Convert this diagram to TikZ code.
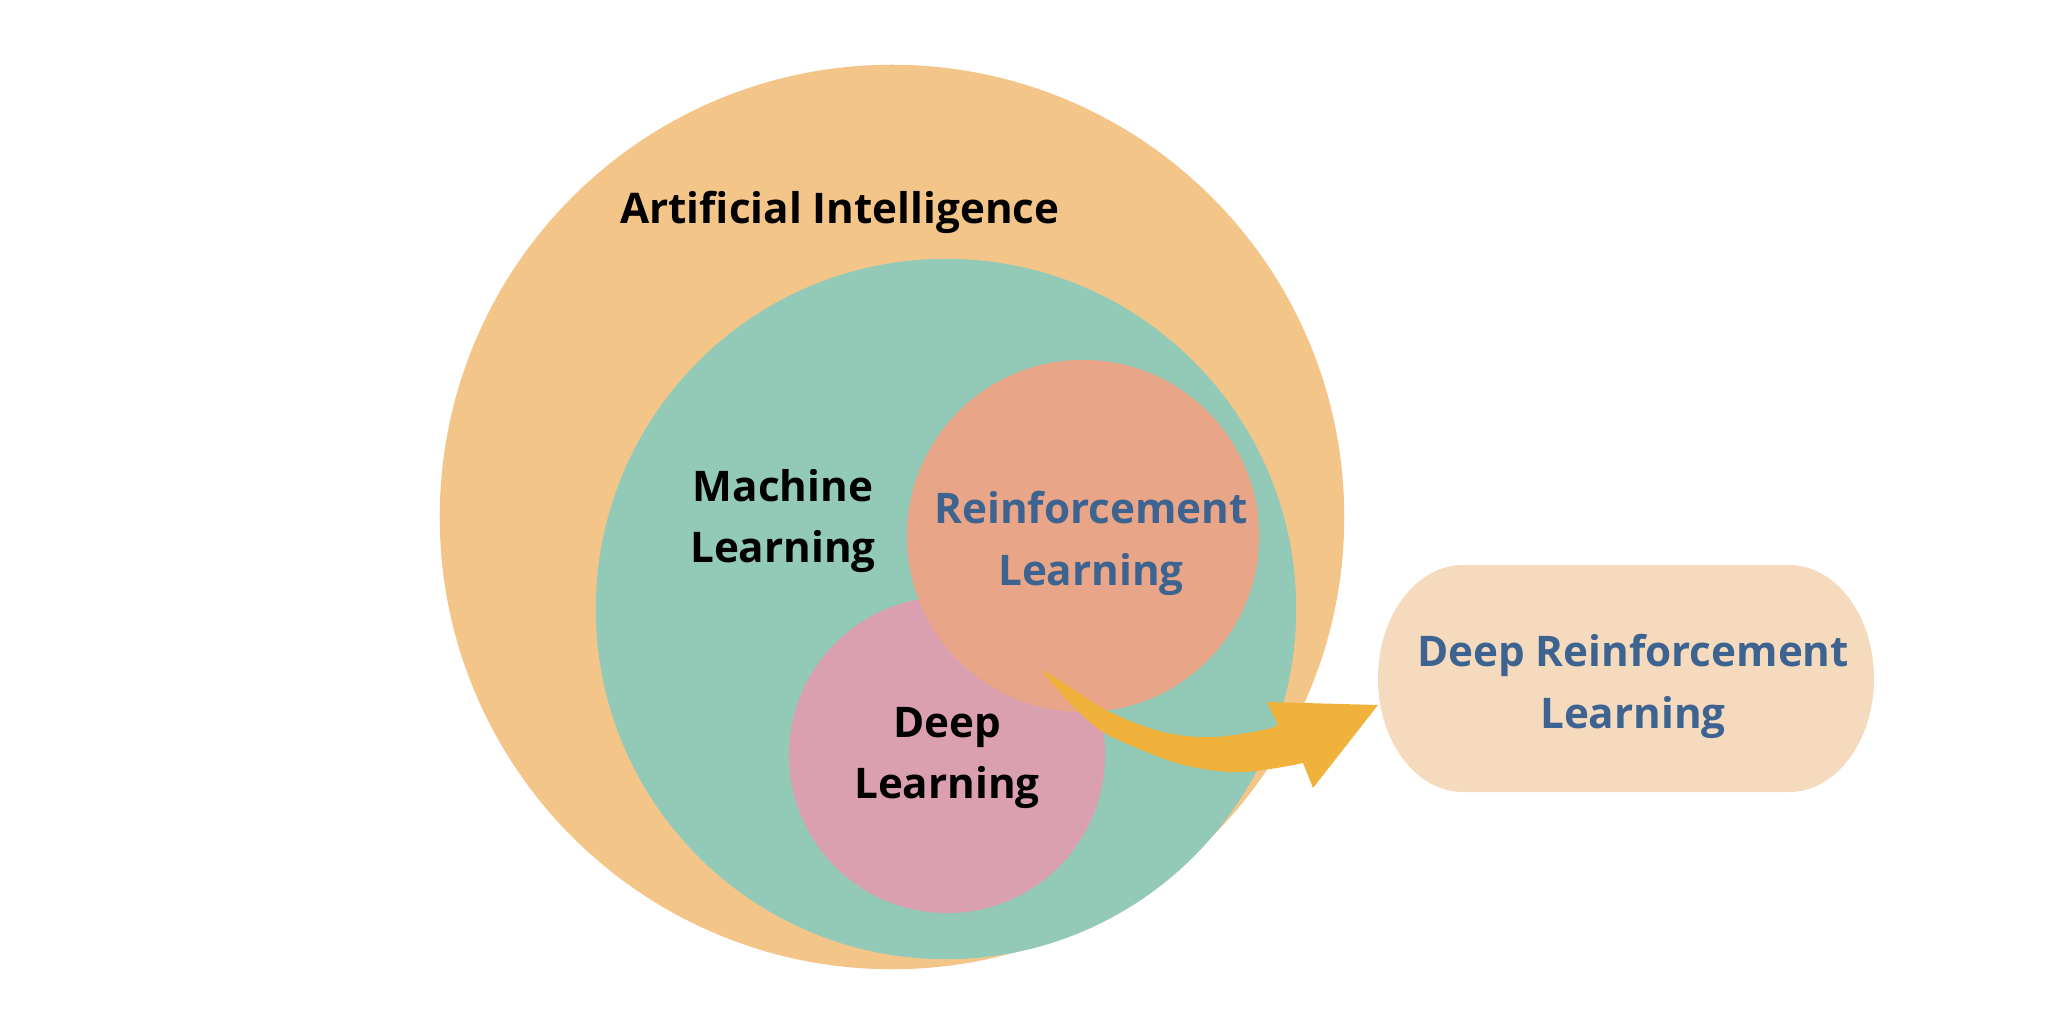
\documentclass[tikz,border=0pt]{standalone}
\usepackage{fontspec}
\setmainfont{Open Sans}
\usepackage{tikz}

\definecolor{aiorange}{HTML}{F4C589}
\definecolor{mlteal}{HTML}{92CAB7}
\definecolor{rlsalmon}{HTML}{E8A587}
\definecolor{dlpink}{HTML}{DAA0B0}
\definecolor{drlfill}{HTML}{F6DABE}
\definecolor{arrowgold}{HTML}{F0B23A}
\definecolor{lblblue}{HTML}{3D6390}

\tikzset{
	blob/.style={circle, inner sep=0pt, draw=none},
	lbl/.style={font=\fontsize{12}{17.6}\selectfont\bfseries, align=center, inner sep=0pt}
}

\begin{document}
\begin{tikzpicture}[x=0.01cm, y=0.01cm]
		\useasboundingbox (0,0) rectangle (2062,1020);

		% nested fields
		\node[blob, fill=aiorange, minimum size=9.04cm] (ai) at (892,503) {};
		\node[blob, fill=mlteal, minimum size=7cm] (ml) at (946,411) {};
		\node[blob, fill=dlpink, minimum size=3.16cm] (dl) at (947,265) {};
		\node[blob, fill=rlsalmon, minimum size=3.52cm] (rl) at (1083,484) {};

		\node[lbl] (ailbl) at (840,808) {Artificial Intelligence};
		\node[lbl] (mllbl) at (783,499) {Machine\\Learning};
		\node[lbl, text=lblblue] (rllbl) at (1091,477) {Reinforcement\\Learning};
		\node[lbl] (dllbl) at (947,262) {Deep\\Learning};

		% curved arrow
		\fill[arrowgold] plot[smooth, tension=0.6] coordinates {(1043,350) (1070,333) (1110,308) (1163,288) (1213,283) (1263,290) (1278,295)}
			-- (1267,318) -- (1378,315) -- (1313,232) -- (1303,257)
			-- plot[smooth, tension=0.6] coordinates {(1303,257) (1270,251) (1230,248) (1180,256) (1130,275) (1100,290) (1075,312) (1045,345)}
			-- cycle;

		% result box
		\fill[drlfill] (1463,455) -- (1789,455)
			arc[start angle=90, end angle=0, x radius=85, y radius=113.5]
			arc[start angle=0, end angle=-90, x radius=85, y radius=113.5]
			-- (1463,228)
			arc[start angle=270, end angle=180, x radius=85, y radius=113.5]
			arc[start angle=180, end angle=90, x radius=85, y radius=113.5] -- cycle;
		\node[lbl, text=lblblue] (drl) at (1633,334) {Deep Reinforcement\\Learning};
	\end{tikzpicture}
\end{document}
